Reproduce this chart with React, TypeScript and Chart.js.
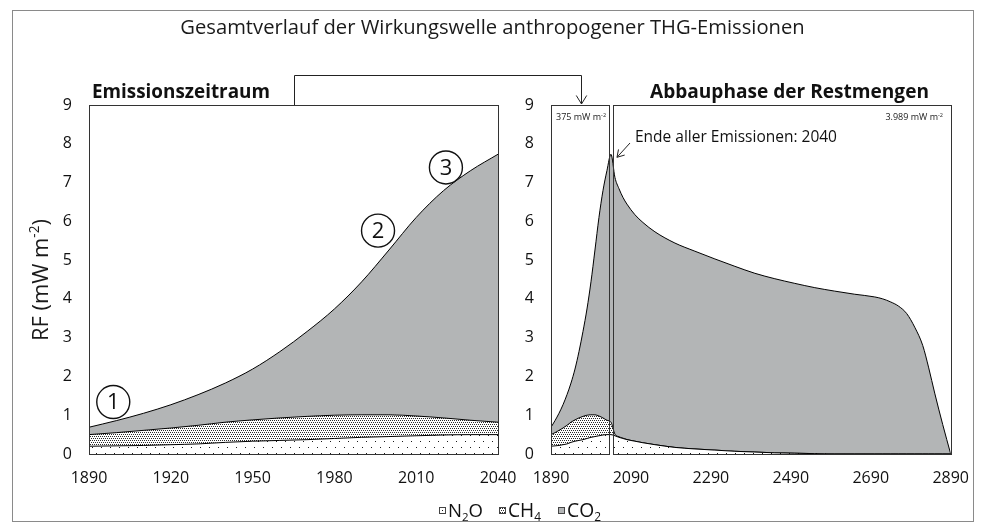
import React, { useEffect, useRef } from 'react';
import { Chart, registerables } from 'chart.js';
Chart.register(...registerables);

const FONT = '"Open Sans", sans-serif';

// ---- data ----
const emisYears = [1890, 1900, 1910, 1920, 1930, 1940, 1950, 1960, 1970, 1980, 1990, 2000, 2010, 2020, 2030, 2040];
const emisN2O = [0.20, 0.21, 0.22, 0.24, 0.26, 0.30, 0.33, 0.35, 0.37, 0.40, 0.43, 0.45, 0.47, 0.49, 0.50, 0.50];
const emisCH4 = [0.30, 0.34, 0.39, 0.43, 0.48, 0.52, 0.55, 0.58, 0.60, 0.60, 0.58, 0.56, 0.51, 0.44, 0.37, 0.32];
const emisCO2 = [0.19, 0.31, 0.44, 0.60, 0.79, 1.01, 1.31, 1.71, 2.19, 2.74, 3.43, 4.25, 5.12, 5.86, 6.44, 6.91];

const decayYears = [2050, 2060, 2070, 2080, 2100, 2120, 2150, 2200, 2250, 2300, 2350, 2400, 2450, 2500, 2550, 2600, 2650, 2700, 2720, 2740, 2760, 2780, 2800, 2820, 2835, 2850, 2870, 2890];
const decayN2O = [0.47, 0.43, 0.40, 0.37, 0.33, 0.29, 0.24, 0.17, 0.13, 0.10, 0.07, 0.05, 0.03, 0.02, 0.01, 0, 0, 0, 0, 0, 0, 0, 0, 0, 0, 0, 0, 0];
const decayCH4 = [0.04, 0.015, 0.008, 0.004, 0, 0, 0, 0, 0, 0, 0, 0, 0, 0, 0, 0, 0, 0, 0, 0, 0, 0, 0, 0, 0, 0, 0, 0];
const decayCO2 = [6.62, 6.40, 6.21, 6.07, 5.84, 5.68, 5.49, 5.27, 5.10, 4.93, 4.77, 4.61, 4.49, 4.38, 4.28, 4.20, 4.12, 4.05, 4.00, 3.92, 3.81, 3.62, 3.27, 2.80, 2.22, 1.57, 0.76, 0];

const yTicks = [0, 1, 2, 3, 4, 5, 6, 7, 8, 9];
const leftXTicks = [1890, 1920, 1950, 1980, 2010, 2040];
const rightXTicks = [1890, 2090, 2290, 2490, 2690, 2890];

const seriesLabels = ['N2O', 'CH4', 'CO2'];
const endYear = 2040;

const CO2_COLOR = '#b3b5b6';

// ---- helpers ----
type Part = { t: string; k?: 'sub' | 'sup' };

function partFont(size: number, weight: string, k?: string) {
  const s = k ? size * 0.62 : size;
  return `${weight} ${s}px ${FONT}`;
}
function richWidth(ctx: CanvasRenderingContext2D, parts: Part[], size: number, weight: string) {
  let w = 0;
  for (const p of parts) {
    ctx.font = partFont(size, weight, p.k);
    w += ctx.measureText(p.t).width;
  }
  return w;
}
// if fitWidth is given, the font size is chosen so that the text has that width
function drawRich(
  ctx: CanvasRenderingContext2D,
  parts: Part[],
  x: number,
  y: number,
  opt: { size: number; weight?: string; align?: 'left' | 'center' | 'right'; fitWidth?: number; color?: string }
) {
  const weight = opt.weight || 'normal';
  let size = opt.size;
  if (opt.fitWidth) size = (size * opt.fitWidth) / richWidth(ctx, parts, size, weight);
  const total = richWidth(ctx, parts, size, weight);
  let cx = opt.align === 'center' ? x - total / 2 : opt.align === 'right' ? x - total : x;
  ctx.save();
  ctx.fillStyle = opt.color || '#111';
  ctx.textAlign = 'left';
  ctx.textBaseline = 'alphabetic';
  for (const p of parts) {
    ctx.font = partFont(size, weight, p.k);
    const dy = p.k === 'sup' ? -size * 0.38 : p.k === 'sub' ? size * 0.22 : 0;
    ctx.fillText(p.t, cx, y + dy);
    cx += ctx.measureText(p.t).width;
  }
  ctx.restore();
}

function arrowHead(ctx: CanvasRenderingContext2D, tipX: number, tipY: number, fromX: number, fromY: number, len: number) {
  const a = Math.atan2(fromY - tipY, fromX - tipX);
  const s = 0.55;
  ctx.beginPath();
  ctx.moveTo(tipX + len * Math.cos(a + s), tipY + len * Math.sin(a + s));
  ctx.lineTo(tipX, tipY);
  ctx.lineTo(tipX + len * Math.cos(a - s), tipY + len * Math.sin(a - s));
  ctx.stroke();
}

function makeDotPattern(): CanvasPattern {
  const c = document.createElement('canvas');
  c.width = 9;
  c.height = 12;
  const g = c.getContext('2d')!;
  g.fillStyle = '#ffffff';
  g.fillRect(0, 0, 9, 12);
  g.fillStyle = '#1a1a1a';
  g.fillRect(2, 3, 1, 1);
  g.fillRect(6, 9, 1, 1);
  return g.createPattern(c, 'repeat')!;
}
function makeStipplePattern(): CanvasPattern {
  const c = document.createElement('canvas');
  c.width = 4;
  c.height = 4;
  const g = c.getContext('2d')!;
  g.fillStyle = '#ffffff';
  g.fillRect(0, 0, 4, 4);
  g.fillStyle = '#2a2a2a';
  g.fillRect(0, 0, 1, 1);
  g.fillRect(2, 0, 1, 1);
  g.fillRect(1, 2, 1, 1);
  g.fillRect(3, 2, 1, 1);
  return g.createPattern(c, 'repeat')!;
}

function pts(xs: number[], ys: number[]) {
  return xs.map((x, i) => ({ x, y: ys[i] }));
}

function App() {
  const leftRef = useRef<HTMLCanvasElement>(null);
  const rightRef = useRef<HTMLCanvasElement>(null);

  useEffect(() => {
    const dotPat = makeDotPattern();
    const stipPat = makeStipplePattern();
    const fills = [dotPat, stipPat, CO2_COLOR];

    const tickFont = { family: FONT, size: 16 };

    const makeDatasets = (xs: number[], series: number[][]) =>
      series.map((ys, i) => ({
        label: seriesLabels[i],
        data: pts(xs, ys),
        fill: i === 0 ? 'origin' : '-1',
        backgroundColor: fills[i] as any,
        borderColor: '#000',
        borderWidth: 1,
        pointRadius: 0,
        cubicInterpolationMode: 'monotone' as const,
      }));

    const scaleOpts = (xmin: number, xmax: number, xt: number[]) => ({
      x: {
        type: 'linear' as const,
        min: xmin,
        max: xmax,
        afterBuildTicks: (s: any) => {
          s.ticks = xt.map((v) => ({ value: v }));
        },
        afterFit: (s: any) => {
          s.height = 30;
        },
        grid: { display: false, drawTicks: false },
        border: { display: false },
        ticks: { padding: 15, color: '#111', font: tickFont, maxRotation: 0, autoSkip: false, callback: (v: any) => String(v) },
      },
      y: {
        type: 'linear' as const,
        stacked: true,
        min: 0,
        max: 9,
        afterBuildTicks: (s: any) => {
          s.ticks = yTicks.map((v) => ({ value: v }));
        },
        afterFit: (s: any) => {
          s.width = 40;
        },
        grid: { display: false, drawTicks: false },
        border: { display: false },
        ticks: { padding: 17, color: '#111', font: tickFont, callback: (v: any) => String(v) },
      },
    });

    const leftOverlay = {
      id: 'leftOverlay',
      afterDraw(chart: any) {
        const ctx: CanvasRenderingContext2D = chart.ctx;
        const a = chart.chartArea;
        const xs = chart.scales.x;
        const ys = chart.scales.y;
        ctx.save();
        // outer frame
        ctx.strokeStyle = '#8a8a8a';
        ctx.lineWidth = 1;
        ctx.strokeRect(12.5, 10.5, 961, 511);
        // plot box
        ctx.strokeStyle = '#333';
        ctx.strokeRect(Math.round(a.left) + 0.5, Math.round(a.top) + 0.5, Math.round(a.right - a.left), Math.round(a.bottom - a.top));
        // title
        drawRich(ctx, [{ t: 'Gesamtverlauf der Wirkungswelle anthropogener THG-Emissionen' }], 492.5, 34, {
          size: 18,
          align: 'center',
          fitWidth: 625,
          color: '#1a1a1a',
        });
        // y-axis title
        ctx.save();
        ctx.translate(41, 280);
        ctx.rotate(-Math.PI / 2);
        drawRich(ctx, [{ t: 'RF (mW m' }, { t: '-2', k: 'sup' }, { t: ')' }], 0, 6.5, {
          size: 18,
          align: 'center',
          fitWidth: 122,
          color: '#1a1a1a',
        });
        ctx.restore();
        // panel title
        drawRich(ctx, [{ t: 'Emissionszeitraum' }], a.left + 3, 98, { size: 18, weight: 'bold', fitWidth: 178, color: '#111' });
        // bracket connector
        ctx.strokeStyle = '#222';
        ctx.lineWidth = 1;
        ctx.beginPath();
        ctx.moveTo(294.5, a.top);
        ctx.lineTo(294.5, 75.5);
        ctx.lineTo(581.5, 75.5);
        ctx.lineTo(581.5, a.top - 1);
        ctx.stroke();
        arrowHead(ctx, 581.5, a.top - 1, 581.5, 75.5, 10);
        // circled markers
        const marks: [number, number, string][] = [
          [1898.9, 1.34, '1'],
          [1996, 5.76, '2'],
          [2020.9, 7.39, '3'],
        ];
        for (const [yr, v, t] of marks) {
          const px = xs.getPixelForValue(yr);
          const py = ys.getPixelForValue(v);
          ctx.beginPath();
          ctx.lineWidth = 1.4;
          ctx.strokeStyle = '#111';
          ctx.arc(px, py, 16.5, 0, Math.PI * 2);
          ctx.stroke();
          ctx.fillStyle = '#111';
          ctx.font = `normal 22px ${FONT}`;
          ctx.textAlign = 'center';
          ctx.textBaseline = 'middle';
          ctx.fillText(t, px, py + 1);
        }
        // legend
        ctx.lineWidth = 1;
        const legendItems: { box: number; w: number; parts: Part[]; fill: any }[] = [
          { box: 439, w: 35, parts: [{ t: 'N' }, { t: '2', k: 'sub' }, { t: 'O' }], fill: '#fff' },
          { box: 499, w: 33, parts: [{ t: 'CH' }, { t: '4', k: 'sub' }], fill: stipPat },
          { box: 558, w: 34, parts: [{ t: 'CO' }, { t: '2', k: 'sub' }], fill: CO2_COLOR },
        ];
        for (const it of legendItems) {
          ctx.fillStyle = it.fill;
          ctx.fillRect(it.box, 507, 7, 7);
          ctx.strokeStyle = '#444';
          ctx.strokeRect(it.box + 0.5, 507.5, 6, 6);
          if (it.box === 439) {
            ctx.fillStyle = '#111';
            ctx.fillRect(it.box + 3, 510, 1, 1);
          }
          drawRich(ctx, it.parts, it.box + 9, 517, { size: 15, fitWidth: it.w, color: '#111' });
        }
        ctx.restore();
      },
    };

    const rightOverlay = {
      id: 'rightOverlay',
      afterDraw(chart: any) {
        const ctx: CanvasRenderingContext2D = chart.ctx;
        const a = chart.chartArea;
        const xs = chart.scales.x;
        const ys = chart.scales.y;
        const pEnd = Math.round(xs.getPixelForValue(endYear));
        ctx.save();
        ctx.strokeStyle = '#333';
        ctx.lineWidth = 1;
        const L = Math.round(a.left);
        const R = Math.round(a.right);
        const T = Math.round(a.top);
        const B = Math.round(a.bottom);
        ctx.strokeRect(L + 0.5, T + 0.5, pEnd - 2 - L, B - T);
        ctx.strokeRect(pEnd + 2 + 0.5, T + 0.5, R - pEnd - 2, B - T);
        // panel title
        drawRich(ctx, [{ t: 'Abbauphase der Restmengen' }], 650, 98, { size: 18, weight: 'bold', fitWidth: 279, color: '#111' });
        // box labels
        drawRich(ctx, [{ t: '375 mW m' }, { t: '-2', k: 'sup' }], L + 5, 120, { size: 9, color: '#222' });
        drawRich(ctx, [{ t: '3.989 mW m' }, { t: '-2', k: 'sup' }], R - 8, 120, { size: 9, align: 'right', color: '#222' });
        // end annotation
        drawRich(ctx, [{ t: 'Ende aller Emissionen: 2040' }], 635, 141.5, { size: 16, fitWidth: 202, color: '#111' });
        const tipX = pEnd + 6;
        const tipY = ys.getPixelForValue(7.6) - 2;
        ctx.strokeStyle = '#222';
        ctx.beginPath();
        ctx.moveTo(630, 143);
        ctx.lineTo(tipX, tipY);
        ctx.stroke();
        arrowHead(ctx, tipX, tipY, 630, 143, 8);
        ctx.restore();
      },
    };

    const left = new Chart(leftRef.current!, {
      type: 'line',
      data: { datasets: makeDatasets(emisYears, [emisN2O, emisCH4, emisCO2]) as any },
      options: {
        responsive: false,
        animation: false,
        events: [],
        layout: { padding: { left: 49, right: 486, top: 105, bottom: 44 } },
        scales: scaleOpts(1890, 2040, leftXTicks) as any,
        plugins: { legend: { display: false }, tooltip: { enabled: false } },
      },
      plugins: [leftOverlay],
    });

    const allYears = emisYears.concat(decayYears);
    const right = new Chart(rightRef.current!, {
      type: 'line',
      data: {
        datasets: makeDatasets(allYears, [emisN2O.concat(decayN2O), emisCH4.concat(decayCH4), emisCO2.concat(decayCO2)]) as any,
      },
      options: {
        responsive: false,
        animation: false,
        events: [],
        layout: { padding: { left: 511, right: 24, top: 105, bottom: 44 } },
        scales: scaleOpts(1890, 2890, rightXTicks) as any,
        plugins: { legend: { display: false }, tooltip: { enabled: false } },
      },
      plugins: [rightOverlay],
    });

    return () => {
      left.destroy();
      right.destroy();
    };
  }, []);

  return (
    <div style={{ position: 'fixed', left: 0, top: 0, width: 984, height: 528, background: '#fff' }}>
      <canvas ref={leftRef} width={984} height={528} style={{ position: 'absolute', left: 0, top: 0, display: 'block' }} />
      <canvas ref={rightRef} width={984} height={528} style={{ position: 'absolute', left: 0, top: 0, display: 'block' }} />
    </div>
  );
}

export default App;
